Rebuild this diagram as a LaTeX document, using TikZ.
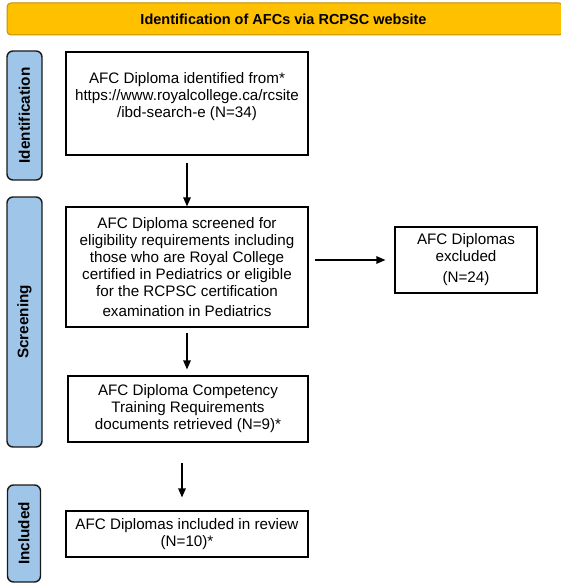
\documentclass[tikz,border=0pt]{standalone}
\usepackage{fontspec}
\setmainfont{Liberation Sans}
\usetikzlibrary{arrows.meta}
\definecolor{gold}{HTML}{FFC000}
\definecolor{golddark}{HTML}{BF9000}
\definecolor{lblue}{HTML}{9FC5E8}
\definecolor{darkline}{HTML}{1A1A1A}
\begin{document}
\begin{tikzpicture}[x=1pt,y=-1pt,
  box/.style={draw=black, line width=1.2pt, fill=white, inner sep=0pt, align=center, font=\fontsize{15.2}{17}\selectfont},
  txt/.style={align=center, inner sep=0pt, font=\fontsize{15.2}{17}\selectfont},
  side/.style={draw=darkline, line width=1.4pt, fill=lblue, rounded corners=6pt, inner sep=0pt, font=\bfseries\fontsize{15.3}{17}\selectfont, rotate=90},
  banner/.style={draw=golddark, line width=1pt, fill=gold, rounded corners=4pt, inner sep=0pt},
  arr/.style={line width=1.2pt, -{Triangle[length=9pt,width=7.5pt]}}
]
\useasboundingbox (0,0) rectangle (560,583);
% banner
\node[banner, minimum width=556, minimum height=32] (ban) at (285,19) {};
\node[txt, font=\bfseries\fontsize{14.5}{16.5}\selectfont] (bant) at (283.5,19) {Identification of AFCs via RCPSC website};
% side labels
\node[side, minimum width=129, minimum height=35] (s1) at (24.5,115.5) {Identi\-f\kern0.6pt ication};
\node[side, minimum width=250, minimum height=35] (s2) at (24.5,322) {Screening};
\node[side, minimum width=97, minimum height=33] (s3) at (24,533.5) {Included};
% boxes
\node[box, minimum width=242, minimum height=103] (b1) at (187,103.5) {};
\node[txt] (t1) at (187,97) {AFC Diploma identified from*\\https://www.royalcollege.ca/rcsite\\/ibd-search-e (N=34)};
\node[box, minimum width=242, minimum height=120] (b2) at (187,267) {AFC Diploma screened for\\eligibility requirements including\\those who are Royal College\\certified in Pediatrics or eligible\\for the RCPSC certification\\[3pt]examination in Pediatrics};
\node[box, minimum width=240, minimum height=66] (b3) at (188,409) {AFC Diploma Competency\\Training Requirements\\documents retrieved (N=9)*};
\node[box, minimum width=242, minimum height=46] (b4) at (187,534) {AFC Diplomas included in review\\(N=10)*};
\node[box, minimum width=142, minimum height=66] (b5) at (466,260) {AFC Diplomas\\excluded\\[4pt](N=24)};
% arrows
\draw[arr, shorten <=7pt] (b1.south) -- (b2.north);
\draw[arr, shorten <=5pt, shorten >=6pt] (b2.south) -- (b2.south |- b3.north);
\draw[arr, shorten <=20pt, shorten >=13pt] ([xshift=-6pt]b3.south) -- ([xshift=-6pt]b3.south |- b4.north);
\draw[arr, shorten <=6pt, shorten >=9pt] (b2.east |- b5.west) -- (b5.west);
\end{tikzpicture}
\end{document}
